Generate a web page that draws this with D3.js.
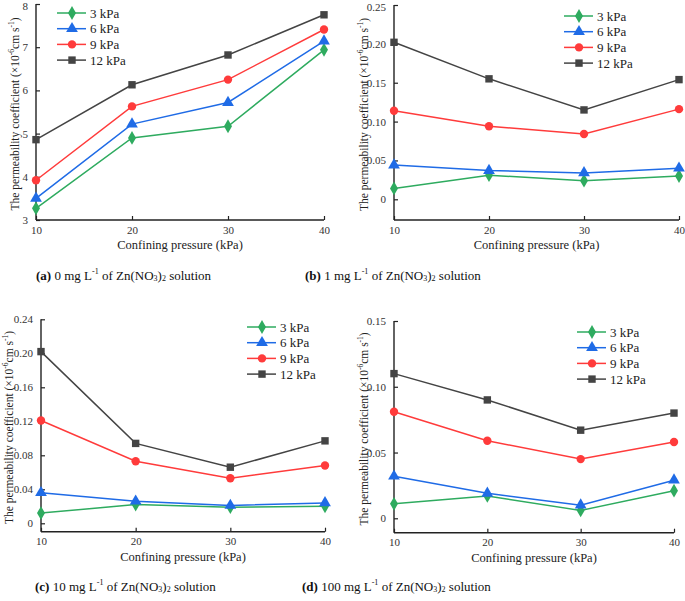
<!DOCTYPE html>
<html>
<head>
<meta charset="utf-8">
<script src="https://cdn.jsdelivr.net/npm/d3@7"></script>
<style>
  body { margin: 0; background: #fff; }
</style>
</head>
<body>
<script>
// confining pressure (kPa) on the x axis
var pressures = [10, 20, 30, 40];
var seriesNames = ["3 kPa", "6 kPa", "9 kPa", "12 kPa"];
var colors = ["#2eab5f", "#1f6be6", "#ff3b3b", "#444444"];
var shapes = [d3.symbolDiamond, d3.symbolTriangle, d3.symbolCircle, d3.symbolSquare];

// (a) 0 mg/L
var valuesA = [
  [3.27, 4.90, 5.17, 6.94],
  [3.50, 5.22, 5.72, 7.14],
  [3.92, 5.63, 6.25, 7.41],
  [4.86, 6.13, 6.82, 7.75]
];
// (b) 1 mg/L
var valuesB = [
  [0.014, 0.031, 0.024, 0.030],
  [0.044, 0.037, 0.034, 0.040],
  [0.114, 0.094, 0.084, 0.116],
  [0.202, 0.155, 0.115, 0.154]
];
// (c) 10 mg/L
var valuesC = [
  [0.012, 0.022, 0.019, 0.020],
  [0.036, 0.026, 0.021, 0.024],
  [0.121, 0.073, 0.053, 0.068],
  [0.202, 0.094, 0.066, 0.097]
];
// (d) 100 mg/L
var valuesD = [
  [0.011, 0.017, 0.006, 0.021],
  [0.032, 0.019, 0.010, 0.029],
  [0.081, 0.059, 0.045, 0.058],
  [0.110, 0.090, 0.067, 0.080]
];

var yTicksA = [3, 4, 5, 6, 7, 8];
var yTicksB = [0, 0.05, 0.10, 0.15, 0.20, 0.25];
var yTicksC = [0, 0.04, 0.08, 0.12, 0.16, 0.20, 0.24];
var yTicksD = [0, 0.05, 0.10, 0.15];

var captionLabels = ["(a)", "(b)", "(c)", "(d)"];
var concentrations = ["0", "1", "10", "100"];

var serif = "'Liberation Serif', 'Times New Roman', serif";

var svg = d3.select("body").append("svg")
  .attr("width", 685)
  .attr("height", 601)
  .attr("font-family", serif);

var panels = [
  { values: valuesA, ticks: yTicksA, fmt: d3.format("d"), left: 36, right: 324, y0: 3, yTop: 8, py0: 220, pyTop: 4, bottom: 220,
    legX: 57, legY: 13, titleX: 15, capX: 36, capY: 275 },
  { values: valuesB, ticks: yTicksB, fmt: null, left: 394, right: 679, y0: 0, yTop: 0.25, py0: 199.3, pyTop: 5, bottom: 220,
    legX: 564, legY: 16, titleX: 364, capX: 305, capY: 275 },
  { values: valuesC, ticks: yTicksC, fmt: null, left: 41, right: 325, y0: 0, yTop: 0.24, py0: 523.3, pyTop: 319.3, bottom: 531.7,
    legX: 247, legY: 327, titleX: 9, capX: 35, capY: 586 },
  { values: valuesD, ticks: yTicksD, fmt: null, left: 394, right: 674, y0: 0, yTop: 0.15, py0: 518.3, pyTop: 321, bottom: 532.7,
    legX: 577, legY: 332, titleX: 364, capX: 302, capY: 586 }
];

function tickFmt(v) {
  return v === 0 ? "0" : d3.format(".2f")(v);
}

panels.forEach(function(p, pi) {
  var x = d3.scaleLinear().domain([10, 40]).range([p.left, p.right]);
  var y = d3.scaleLinear().domain([p.y0, p.yTop]).range([p.py0, p.pyTop]);
  var g = svg.append("g");

  // y axis, ticks inside
  var yAxis = d3.axisLeft(y).tickValues(p.ticks).tickSizeInner(-4).tickSizeOuter(0)
    .tickPadding(8).tickFormat(p.fmt || tickFmt);
  var yg = g.append("g").attr("transform", "translate(" + p.left + ",0)").call(yAxis);
  yg.select(".domain").remove();
  g.append("line").attr("x1", p.left).attr("x2", p.left)
    .attr("y1", p.bottom).attr("y2", y(p.yTop))
    .attr("stroke", "#222").attr("stroke-width", 1.4);
  // keep the topmost label inside the page
  yg.selectAll(".tick text").filter(function(d) { return y(d) < 8; }).attr("y", 1.5);

  // x axis
  var xAxis = d3.axisBottom(x).tickValues(pressures).tickSizeInner(-4).tickSizeOuter(0)
    .tickPadding(6).tickFormat(d3.format("d"));
  var xg = g.append("g").attr("transform", "translate(0," + p.bottom + ")").call(xAxis);
  xg.select(".domain").remove();
  g.append("line").attr("x1", p.left).attr("x2", p.right)
    .attr("y1", p.bottom).attr("y2", p.bottom)
    .attr("stroke", "#222").attr("stroke-width", 1.4);

  yg.attr("font-family", serif).attr("font-size", 11);
  xg.attr("font-family", serif).attr("font-size", 11);
  g.selectAll(".tick line").attr("stroke", "#222").attr("stroke-width", 1.2);
  g.selectAll(".tick text").attr("fill", "#333");

  // axis titles
  g.append("text")
    .attr("x", (p.left + p.right) / 2).attr("y", p.bottom + 25)
    .attr("text-anchor", "middle").attr("dominant-baseline", "central")
    .attr("font-size", 12.5).attr("fill", "#222")
    .text("Confining pressure (kPa)");

  var yt = g.append("text")
    .attr("transform", "translate(" + p.titleX + "," + ((p.pyTop + p.bottom) / 2 + 2) + ") rotate(-90)")
    .attr("text-anchor", "middle").attr("dominant-baseline", "central")
    .attr("font-size", 11.5).attr("fill", "#222");
  yt.append("tspan").text("The permeability coefficient (\u00d710");
  yt.append("tspan").attr("dy", -4).attr("font-size", 7.5).text("-6");
  yt.append("tspan").attr("dy", 4).text("cm s");
  yt.append("tspan").attr("dy", -4).attr("font-size", 7.5).text("-1");
  yt.append("tspan").attr("dy", 4).text(")");

  // series lines and markers
  var line = d3.line()
    .x(function(d, i) { return x(pressures[i]); })
    .y(function(d) { return y(d); });

  p.values.forEach(function(vals, si) {
    g.append("path").datum(vals)
      .attr("d", line)
      .attr("fill", "none")
      .attr("stroke", colors[si])
      .attr("stroke-width", 1.5);
  });
  p.values.forEach(function(vals, si) {
    g.selectAll(".m" + si).data(vals).enter().append("path")
      .attr("class", "m" + si)
      .attr("transform", function(d, i) { return "translate(" + x(pressures[i]) + "," + y(d) + ")"; })
      .attr("d", d3.symbol().type(shapes[si]).size(si === 1 ? 60 : 55))
      .attr("fill", colors[si]);
  });

  // legend
  var leg = g.append("g").attr("transform", "translate(" + p.legX + "," + p.legY + ")");
  seriesNames.forEach(function(name, si) {
    var row = leg.append("g").attr("transform", "translate(0," + (si * 15.7) + ")");
    row.append("line").attr("x1", 0).attr("x2", 29).attr("y1", 0).attr("y2", 0)
      .attr("stroke", colors[si]).attr("stroke-width", 1.5);
    row.append("path").attr("transform", "translate(15,0)")
      .attr("d", d3.symbol().type(shapes[si]).size(si === 1 ? 60 : 55))
      .attr("fill", colors[si]);
    row.append("text").attr("x", 33).attr("y", 0)
      .attr("dominant-baseline", "central")
      .attr("font-size", 13).attr("fill", "#222")
      .text(name);
  });

  // caption
  var cap = svg.append("text").attr("x", p.capX).attr("y", p.capY)
    .attr("dominant-baseline", "central")
    .attr("font-size", 13).attr("fill", "#111");
  cap.append("tspan").attr("font-weight", "bold").text(captionLabels[pi]);
  cap.append("tspan").text(" " + concentrations[pi] + " mg L");
  cap.append("tspan").attr("dy", -4).attr("font-size", 8).text("-1");
  cap.append("tspan").attr("dy", 4).text(" of Zn(NO");
  cap.append("tspan").attr("dy", 3).attr("font-size", 8).text("3");
  cap.append("tspan").attr("dy", -3).text(")");
  cap.append("tspan").attr("dy", 3).attr("font-size", 8).text("2");
  cap.append("tspan").attr("dy", -3).text(" solution");
});
</script>
</body>
</html>
